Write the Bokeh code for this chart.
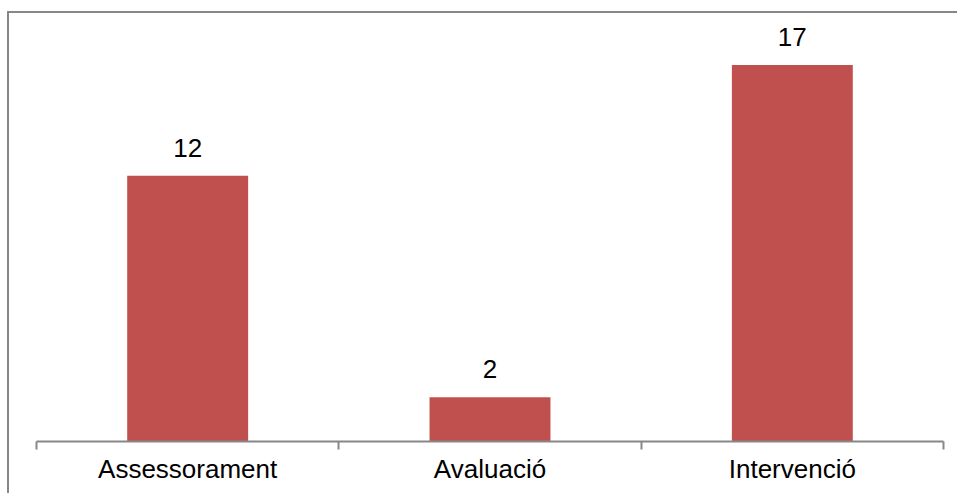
from bokeh.plotting import figure
from bokeh.models import Range1d, FixedTicker, ColumnDataSource, LabelSet
from bokeh.core.properties import value
from bokeh.embed import file_html
from bokeh.resources import INLINE

categories = ["Assessorament", "Avaluació", "Intervenció"]
counts = [12, 2, 17]

xpos = [i + 0.5 for i in range(len(categories))]
src = ColumnDataSource(dict(x=xpos, top=counts, lab=[str(c) for c in counts]))

p = figure(width=950, height=482, output_backend="svg", toolbar_location=None,
           x_range=Range1d(0, len(categories)), y_range=Range1d(0, 19.05),
           min_border_left=27, min_border_right=16, min_border_top=6, min_border_bottom=54,
           styles={"border-left": "2px solid #878787", "border-top": "2px solid #878787",
                   "margin-top": "11px", "margin-left": "7px"})
p.outline_line_color = None
p.grid.visible = False
p.yaxis.visible = False

p.vbar(x="x", top="top", width=0.4, source=src, color="#C0504D", line_color=None)

labels = LabelSet(x="x", y="top", text="lab", source=src, text_align="center",
                  text_baseline="alphabetic", y_offset=19, text_font=value("Liberation Sans"),
                  text_font_size=value("26px"), text_color="#000000")
p.add_layout(labels)

ax = p.xaxis[0]
ax.ticker = FixedTicker(ticks=xpos, minor_ticks=list(range(len(categories) + 1)))
ax.major_label_overrides = {x: c for x, c in zip(xpos, categories)}
ax.major_tick_out = 0
ax.major_tick_in = 0
ax.minor_tick_out = 8
ax.minor_tick_in = 0
ax.minor_tick_line_color = "#878787"
ax.minor_tick_line_width = 2
ax.axis_line_color = "#878787"
ax.axis_line_width = 2
ax.major_label_text_font = "Liberation Sans"
ax.major_label_text_font_size = "26px"
ax.major_label_text_color = "#000000"
ax.major_label_standoff = 4

open("out.html", "w").write(file_html(p, INLINE))
